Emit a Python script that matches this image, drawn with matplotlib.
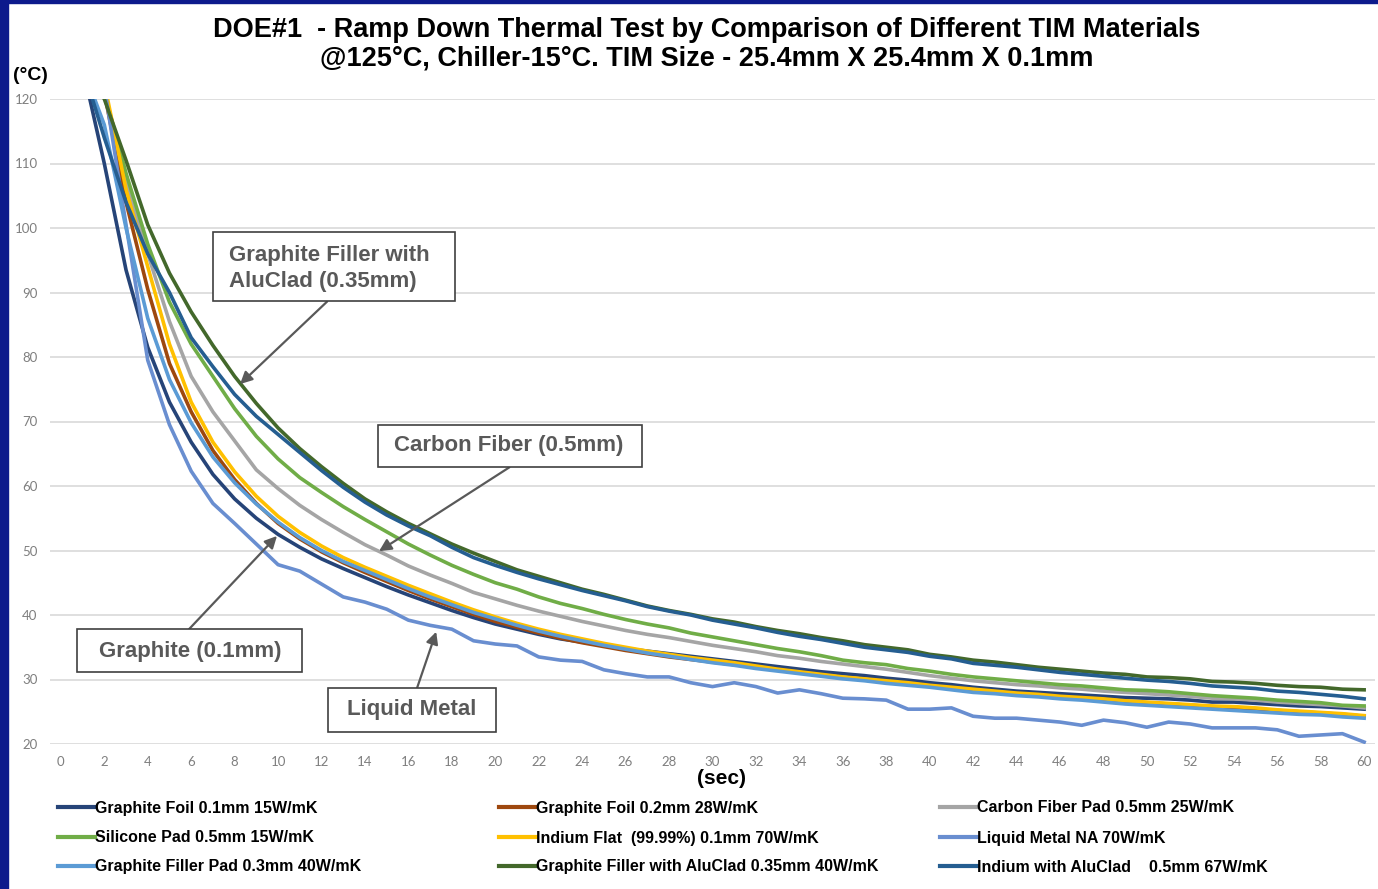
import numpy as np
import matplotlib.pyplot as plt
from matplotlib.lines import Line2D
from matplotlib.patches import Rectangle

# Datos (tiempo en s, temperatura en °C)
t = np.arange(0, 61)

graphite_foil_01 = [126, 125, 110, 93.5, 81.5, 73.0, 66.8, 61.8, 58.0, 55.0, 52.5,
                    50.5, 48.7, 47.2, 45.8, 44.4, 43.1, 41.9, 40.7, 39.6, 38.6,
                    37.8, 37.0, 36.3, 35.8, 35.3, 34.8, 34.4, 34.0, 33.6, 33.2,
                    32.8, 32.4, 32.0, 31.6, 31.2, 30.9, 30.6, 30.2, 29.9, 29.5,
                    29.2, 28.8, 28.5, 28.2, 28.0, 27.8, 27.6, 27.4, 27.2, 27.1,
                    27.0, 26.8, 26.5, 26.5, 26.3, 26.1, 25.9, 25.8, 25.6, 25.4]
graphite_foil_02 = [126, 125, 121, 104, 90.5, 79, 71.5, 65.5, 61.0, 57.3, 54.2,
                    51.8, 49.8, 48.1, 46.6, 45.2, 43.8, 42.5, 41.3, 40.1, 39.0,
                    38.1, 37.2, 36.4, 35.7, 35.1, 34.5, 34.0, 33.5, 33.1, 32.7,
                    32.3, 31.9, 31.5, 31.1, 30.7, 30.3, 30.0, 29.7, 29.4, 29.0,
                    28.7, 28.4, 28.1, 27.8, 27.6, 27.3, 27.1, 26.9, 26.6, 26.4,
                    26.2, 26.0, 25.8, 25.6, 25.4, 25.2, 25.0, 24.8, 24.6, 24.3]
carbon_fiber = [126, 125, 121.5, 107, 96, 85.5, 77, 71.5, 67, 62.5, 59.6,
                57.0, 54.8, 52.8, 50.9, 49.3, 47.6, 46.2, 44.9, 43.5, 42.5,
                41.5, 40.6, 39.8, 39.0, 38.3, 37.6, 37.0, 36.5, 35.9, 35.3,
                34.8, 34.3, 33.7, 33.3, 32.8, 32.4, 32.0, 31.6, 31.1, 30.6,
                30.2, 29.8, 29.5, 29.2, 29.0, 28.7, 28.5, 28.2, 28.0, 27.8,
                27.6, 27.4, 27.1, 27.0, 26.8, 26.5, 26.3, 26.1, 25.9, 25.6]
silicone_pad = [126, 125, 121, 108.5, 97.5, 88.5, 82, 77, 72, 67.7, 64.2,
                61.3, 59.0, 56.8, 54.8, 52.9, 51.0, 49.3, 47.7, 46.3, 45.0,
                44.0, 42.8, 41.8, 41.0, 40.1, 39.3, 38.6, 38.0, 37.2, 36.6,
                36.0, 35.4, 34.8, 34.3, 33.7, 33.0, 32.6, 32.3, 31.7, 31.3,
                30.8, 30.4, 30.1, 29.8, 29.5, 29.2, 29.0, 28.7, 28.4, 28.3,
                28.1, 27.8, 27.5, 27.3, 27.1, 26.8, 26.6, 26.4, 26.0, 25.9]
indium_flat = [126, 125, 122.5, 106, 94, 82, 73, 66.8, 62.2, 58.4, 55.3,
               52.8, 50.7, 48.9, 47.4, 46.0, 44.6, 43.3, 42.0, 40.8, 39.7,
               38.7, 37.8, 37.0, 36.3, 35.6, 35.0, 34.4, 33.9, 33.4, 33.0,
               32.6, 32.1, 31.6, 31.2, 30.8, 30.4, 30.1, 29.8, 29.5, 29.1,
               28.8, 28.5, 28.2, 27.9, 27.7, 27.4, 27.2, 27.0, 26.7, 26.5,
               26.3, 26.1, 25.9, 25.8, 25.6, 25.3, 25.1, 24.9, 24.7, 24.4]
liquid_metal = [125, 125, 122, 100.5, 79.5, 69.5, 62.3, 57.3, 54.2, 51.0, 47.8,
                46.8, 44.8, 42.8, 42.0, 40.9, 39.2, 38.4, 37.8, 36.0, 35.5,
                35.2, 33.5, 33.0, 32.8, 31.5, 30.9, 30.4, 30.4, 29.5, 28.9,
                29.5, 28.9, 27.9, 28.4, 27.8, 27.1, 27.0, 26.8, 25.4, 25.4,
                25.6, 24.3, 24.0, 24.0, 23.7, 23.4, 22.9, 23.7, 23.3, 22.6,
                23.4, 23.1, 22.5, 22.5, 22.5, 22.2, 21.2, 21.4, 21.6, 20.3]
filler_pad = [126, 125, 116, 100, 86, 76.5, 69.8, 64.5, 60.5, 57.2, 54.4,
              52.0, 50.0, 48.3, 46.9, 45.5, 44.1, 42.8, 41.6, 40.4, 39.4,
              38.4, 37.5, 36.7, 36.0, 35.3, 34.7, 34.1, 33.6, 33.1, 32.6,
              32.2, 31.7, 31.3, 30.9, 30.5, 30.1, 29.8, 29.4, 29.1, 28.8,
              28.4, 28.0, 27.8, 27.5, 27.3, 27.0, 26.8, 26.5, 26.2, 26.0,
              25.8, 25.6, 25.4, 25.2, 25.0, 24.8, 24.6, 24.5, 24.2, 24.0]
filler_aluclad = [126, 125, 120, 110.5, 100.5, 93, 87, 81.8, 77, 72.8, 69.0,
                  65.8, 63.0, 60.4, 58.0, 56.0, 54.2, 52.6, 51.0, 49.6, 48.3,
                  47.0, 46.0, 45.0, 44.0, 43.2, 42.3, 41.4, 40.7, 40.1, 39.4,
                  38.9, 38.2, 37.6, 37.1, 36.5, 36.0, 35.4, 35.0, 34.6, 33.9,
                  33.5, 33.0, 32.7, 32.3, 31.9, 31.6, 31.3, 31.0, 30.8, 30.4,
                  30.3, 30.1, 29.7, 29.6, 29.4, 29.1, 28.9, 28.8, 28.5, 28.4]
indium_aluclad = [126, 125, 114, 104, 96, 90, 83, 78.5, 74.2, 70.8, 68.0,
                  65.2, 62.4, 59.8, 57.5, 55.5, 53.8, 52.3, 50.5, 48.9, 47.7,
                  46.6, 45.6, 44.7, 43.8, 43.0, 42.2, 41.3, 40.6, 40.0, 39.2,
                  38.6, 38.0, 37.3, 36.7, 36.2, 35.6, 35.0, 34.6, 34.2, 33.6,
                  33.2, 32.5, 32.2, 31.9, 31.5, 31.1, 30.8, 30.5, 30.2, 29.9,
                  29.7, 29.4, 29.0, 28.8, 28.6, 28.2, 28.0, 27.7, 27.4, 27.0]

series = [graphite_foil_01, graphite_foil_02, carbon_fiber, silicone_pad, indium_flat,
          liquid_metal, filler_pad, filler_aluclad, indium_aluclad]
labels = ['Graphite Foil 0.1mm 15W/mK', 'Graphite Foil 0.2mm 28W/mK',
          'Carbon Fiber Pad 0.5mm 25W/mK', 'Silicone Pad 0.5mm 15W/mK',
          'Indium Flat  (99.99%) 0.1mm 70W/mK', 'Liquid Metal NA 70W/mK',
          'Graphite Filler Pad 0.3mm 40W/mK', 'Graphite Filler with AluClad 0.35mm 40W/mK',
          'Indium with AluClad    0.5mm 67W/mK']
colors = ['#264478', '#9E480E', '#A5A5A5', '#70AD47', '#FFC000',
          '#698ED0', '#5B9BD5', '#43682B', '#255E91']

W, H = 1378, 889
fig = plt.figure(figsize=(W / 100, H / 100), dpi=100)
ax = fig.add_axes([50 / W, 1 - 744 / H, 1325 / W, 645 / H])


def fx(x):
    return x / W


def fy(y):
    return 1 - y / H


for y, c in zip(series, colors):
    ax.plot(t, y, color=c, lw=2.6, solid_joinstyle='round')

ax.set_xlim(-0.5, 60.5)
ax.set_ylim(20, 120)
ax.set_xticks(np.arange(0, 61, 2))
ax.set_yticks(np.arange(20, 121, 10))
ax.grid(axis='y', color='#D9D9D9', lw=1.2)
ax.set_axisbelow(True)
for s in ax.spines.values():
    s.set_visible(False)
ax.tick_params(length=0, labelsize=9.5, labelcolor='#7F7F7F', pad=9)
for lab in ax.get_xticklabels() + ax.get_yticklabels():
    lab.set_fontfamily('Lato')

# Titulo y ejes
tf = dict(fontsize=19.5, fontweight='bold', family='Liberation Sans', ha='center', va='center')
fig.text(fx(707), fy(30), 'DOE#1  - Ramp Down Thermal Test by Comparison of Different TIM Materials', **tf)
fig.text(fx(707), fy(59), '@125°C, Chiller-15°C. TIM Size - 25.4mm X 25.4mm X 0.1mm', **tf)
fig.text(fx(30), fy(75), '(°C)', fontsize=14, fontweight='bold', family='Liberation Sans',
         ha='center', va='center')
fig.text(fx(722), fy(778), '(sec)', fontsize=15, fontweight='bold', family='Liberation Sans',
         ha='center', va='center')

# Anotaciones: cajas y flechas
boxes = [(213, 232, 455, 301), (378, 425, 642, 467), (77, 629, 302, 672), (328, 688, 496, 732)]
for x0, y0, x1, y1 in boxes:
    fig.patches.append(Rectangle((fx(x0), fy(y1)), (x1 - x0) / W, (y1 - y0) / H,
                                 transform=fig.transFigure, fc='white', ec='#404040',
                                 lw=1.2, zorder=4))
af = dict(fontsize=16, fontweight='bold', color='#595959', family='Liberation Sans',
          va='center', zorder=5)
fig.text(fx(229), fy(255), 'Graphite Filler with', ha='left', **af)
fig.text(fx(229), fy(282), 'AluClad (0.35mm)', ha='left', **af)
fig.text(fx(509), fy(446), 'Carbon Fiber (0.5mm)', ha='center', **af)
fig.text(fx(190), fy(651), 'Graphite (0.1mm)', ha='center', **af)
fig.text(fx(412), fy(710), 'Liquid Metal', ha='center', **af)

arr = dict(arrowstyle='-|>', color='#595959', lw=1.6, mutation_scale=18, shrinkA=0, shrinkB=0)
ax.annotate('', xy=(8.25, 75.8), xytext=(12.26, 88.6), arrowprops=arr)
ax.annotate('', xy=(14.65, 49.9), xytext=(20.65, 62.9), arrowprops=arr)
ax.annotate('', xy=(9.95, 52.25), xytext=(5.9, 37.8), arrowprops=arr)
ax.annotate('', xy=(17.28, 37.4), xytext=(16.4, 28.7), arrowprops=arr)

# Leyenda
col_x = [58, 499, 940]
row_y = [807, 837, 866]
for i, (lab, c) in enumerate(zip(labels, colors)):
    x0 = col_x[i % 3]
    y0 = row_y[i // 3]
    fig.add_artist(Line2D([fx(x0), fx(x0 + 37)], [fy(y0), fy(y0)],
                          color=c, lw=3, transform=fig.transFigure))
    fig.text(fx(x0 + 37), fy(y0 + 1), lab, fontsize=11.5, fontweight='bold',
             family='Liberation Sans', ha='left', va='center')

# Marco
fig.patches.append(Rectangle((0, 0), 8 / W, 1, transform=fig.transFigure, color='#0D1A8C'))
fig.patches.append(Rectangle((0, 1 - 3 / H), 1, 3 / H, transform=fig.transFigure, color='#0D1A8C'))

fig.savefig('out.png', dpi=100)
